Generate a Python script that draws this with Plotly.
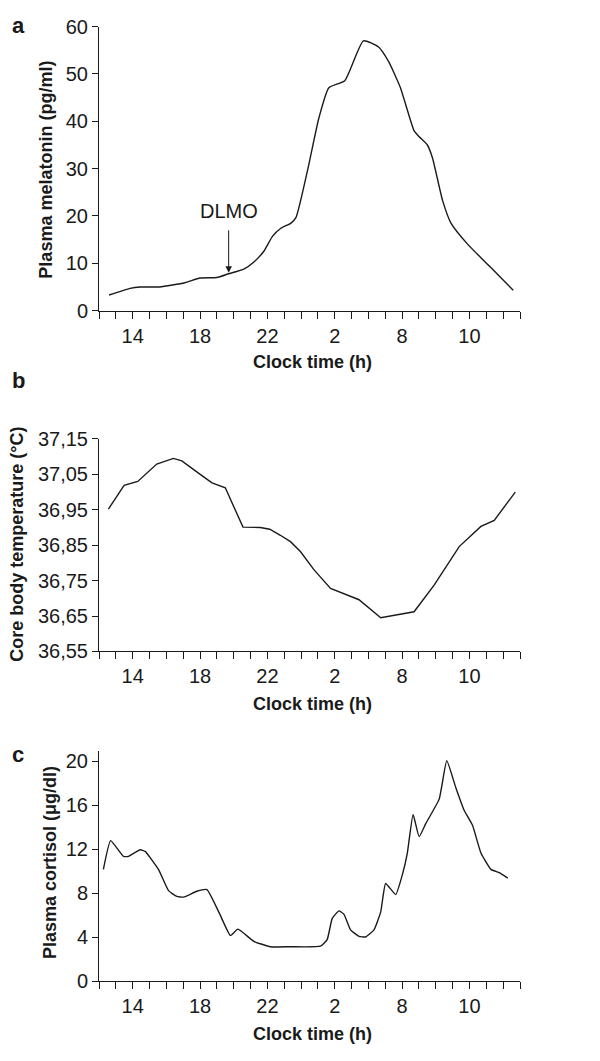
import plotly.graph_objects as go

# x positions are in tick units (one tick per interval, 0..25)
tick_labels = {2: "14", 6: "18", 10: "22", 14: "2", 18: "8", 22: "10"}

mel_x = [0.6, 1.85, 2.45, 3.6, 5.1, 6.0, 7.0, 7.7, 8.6, 9.2, 9.8, 10.3, 10.8, 11.4, 11.7,
         12.4, 13.05, 13.65, 14.6, 15.7, 16.6, 17.2, 17.9, 18.7, 19.0, 19.5, 19.8, 20.4,
         20.9, 21.9, 23.3, 24.6]
mel_y = [3.3, 4.7, 5.0, 5.0, 5.9, 6.9, 7.0, 7.8, 8.8, 10.3, 12.6, 15.7, 17.4, 18.5, 19.7,
         29.9, 40.6, 47.1, 48.6, 57.0, 55.7, 52.6, 47.1, 38.1, 36.8, 35.0, 32.3, 23.3,
         18.5, 14.0, 9.0, 4.3]

temp_x = [0.56, 1.49, 2.30, 3.43, 4.42, 4.92, 6.01, 6.71, 7.5, 8.55, 9.58, 10.14, 10.77,
          11.37, 11.96, 12.76, 13.75, 14.74, 15.44, 16.73, 17.92, 18.71, 19.9, 20.59,
          21.39, 22.68, 23.47, 24.72]
temp_y = [36.952, 37.019, 37.030, 37.079, 37.095, 37.088, 37.050, 37.026, 37.012, 36.901,
          36.900, 36.895, 36.878, 36.860, 36.832, 36.781, 36.728, 36.708, 36.696, 36.645,
          36.654, 36.662, 36.737, 36.786, 36.846, 36.903, 36.920, 37.0]

cort_x = [0.26, 0.69, 1.45, 1.75, 2.44, 2.74, 3.53, 4.13, 4.62, 5.02, 5.81, 6.41, 7.2, 7.8,
          8.25, 9.19, 10.18, 11.37, 13.15, 13.55, 13.85, 14.25, 14.54, 14.94, 15.44, 15.83,
          16.33, 16.73, 17.02, 17.62, 18.02, 18.31, 18.65, 19.01, 19.4, 20.2, 20.65, 21.19,
          21.69, 22.18, 22.68, 23.27, 23.77, 24.27]
cort_y = [10.18, 12.79, 11.36, 11.36, 11.96, 11.81, 10.18, 8.25, 7.72, 7.66, 8.19, 8.34,
          6.02, 4.18, 4.75, 3.65, 3.15, 3.15, 3.2, 3.8, 5.73, 6.41, 6.11, 4.69, 4.10, 4.04,
          4.69, 6.32, 8.90, 7.89, 9.73, 11.66, 15.16, 13.15, 14.33, 16.56, 20.06, 17.6,
          15.52, 14.18, 11.66, 10.18, 9.88, 9.38]

W, H = 600, 1061
FONT = "Liberation Sans, Arial, Helvetica, sans-serif"
INK = "#1a1a1a"
LINE = dict(color=INK, width=1.4)
TICK_SIZE = 20
TITLE_SIZE = 18

fig = go.Figure()
fig.add_trace(go.Scatter(x=mel_x, y=mel_y, mode="lines", line=dict(shape="spline", smoothing=0.5, **LINE),
                         xaxis="x", yaxis="y", showlegend=False))
fig.add_trace(go.Scatter(x=temp_x, y=temp_y, mode="lines", line=LINE,
                         xaxis="x2", yaxis="y2", showlegend=False))
fig.add_trace(go.Scatter(x=cort_x, y=cort_y, mode="lines", line=dict(shape="spline", smoothing=0.4, **LINE),
                         xaxis="x3", yaxis="y3", showlegend=False))

xdom = [99 / W, 520 / W]
def ydom(top, bottom):
    return [1 - bottom / H, 1 - top / H]

tickvals = list(range(26))
ticktext = [tick_labels.get(v, "") for v in tickvals]

def xax(anchor):
    return dict(domain=xdom, range=[0, 25], anchor=anchor, tickvals=tickvals, ticktext=ticktext,
                ticks="outside", ticklen=7, tickwidth=1, tickcolor=INK,
                showline=True, linecolor=INK, linewidth=1, showgrid=False, zeroline=False,
                tickfont=dict(family=FONT, size=TICK_SIZE, color=INK), fixedrange=True)

def yax(anchor, dom, rng, tv, tt):
    return dict(domain=dom, range=rng, anchor=anchor, tickvals=tv, ticktext=tt,
                ticks="outside", ticklen=6, tickwidth=1, tickcolor=INK,
                showline=True, linecolor=INK, linewidth=1, showgrid=False, zeroline=False,
                tickfont=dict(family=FONT, size=TICK_SIZE, color=INK), fixedrange=True)

mel_ticks = [0, 10, 20, 30, 40, 50, 60]
temp_ticks = [36.55, 36.65, 36.75, 36.85, 36.95, 37.05, 37.15]
temp_text = [f"{v:.2f}".replace(".", ",") for v in temp_ticks]
cort_ticks = [0, 4, 8, 12, 16, 20]

fig.update_layout(
    width=W, height=H, margin=dict(l=0, r=0, t=0, b=0),
    paper_bgcolor="white", plot_bgcolor="white",
    xaxis=xax("y"), xaxis2=xax("y2"), xaxis3=xax("y3"),
    yaxis=yax("x", ydom(16, 306), [0, 60], mel_ticks, [str(v) for v in mel_ticks]),
    yaxis2=yax("x2", ydom(437, 654), [36.55, 37.15], temp_ticks, temp_text),
    yaxis3=yax("x3", ydom(756, 991), [0, 20.9], cort_ticks, [str(v) for v in cort_ticks]),
)

def ann(text, x, y, size=TITLE_SIZE, bold=True, angle=0):
    fig.add_annotation(text=f"<b>{text}</b>" if bold else text, x=x / W, y=1 - y / H,
                       xref="paper", yref="paper", showarrow=False, textangle=angle,
                       xanchor="center", yanchor="middle",
                       font=dict(family=FONT, size=size, color=INK))

# panel letters
ann("a", 18, 15, size=22)
ann("b", 18, 377, size=22)
ann("c", 18, 759, size=22)
# x titles
ann("Clock time (h)", 313, 358)
ann("Clock time (h)", 313, 708)
ann("Clock time (h)", 313, 1045)
# y titles
ann("Plasma melatonin (pg/ml)", 46, 162, angle=-90)
ann("Core body temperature (°C)", 17, 545, angle=-90)
ann("Plasma cortisol (μg/dl)", 50, 870, angle=-90)

# DLMO marker
fig.add_annotation(text="", x=7.7, y=8.0, xref="x", yref="y", ax=0, ay=-44,
                   showarrow=True, arrowhead=2, arrowsize=1.3, arrowwidth=1, arrowcolor=INK)
fig.add_annotation(text="DLMO", x=7.7, y=8.0, xref="x", yref="y", showarrow=False,
                   yshift=62, font=dict(family=FONT, size=TICK_SIZE, color=INK))

fig.write_html("out.html")
